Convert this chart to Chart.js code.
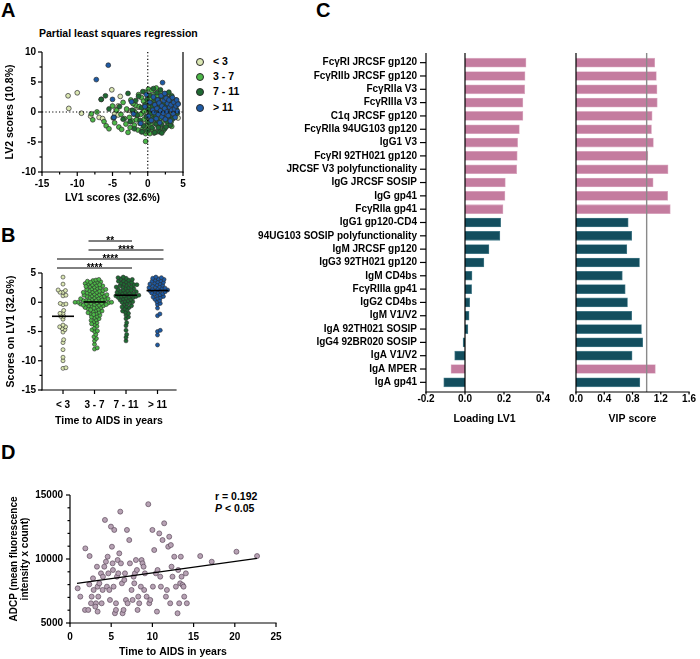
<!DOCTYPE html>
<html>
<head>
<meta charset="utf-8">
<script src="https://cdn.jsdelivr.net/npm/chart.js@4.4.1/dist/chart.umd.min.js"></script>
<style>
  body { margin: 0; background: #fff; font-family: "Liberation Sans", Arial, sans-serif; }
  #page { position: relative; width: 700px; height: 659px; overflow: hidden; background: #fff; }
  canvas, .t { position: absolute; }
  .t { font-weight: bold; color: #000; white-space: nowrap; font-size: 10.5px; line-height: 12px; }
  .letter { font-size: 20px; line-height: 20px; }
  .dot { display: inline-block; width: 6px; height: 6px; border-radius: 50%; border: 0.8px solid #2b2b2b; position: absolute; left: -17px; top: 2.5px; }
</style>
</head>
<body>
<div id="page">
  <div class="t letter" style="left:1px;top:0px">A</div>
  <div class="t letter" style="left:1px;top:225px">B</div>
  <div class="t letter" style="left:316px;top:0px">C</div>
  <div class="t letter" style="left:1px;top:442px">D</div>

  <div class="t" style="left:39px;top:27px">Partial least squares regression</div>
  <div id="legendA"></div>

  <div class="t" style="left:215px;top:490px">r = 0.192</div>
  <div class="t" style="left:215px;top:502px"><i>P</i> &lt; 0.05</div>

  <canvas id="cA" width="250" height="170" style="left:0;top:40px"></canvas>
  <canvas id="cB" width="250" height="205" style="left:0;top:225px"></canvas>
  <canvas id="cC1" width="320" height="390" style="left:240px;top:40px"></canvas>
  <canvas id="cC2" width="140" height="390" style="left:560px;top:40px"></canvas>
  <canvas id="cD" width="300" height="189" style="left:0;top:470px"></canvas>
</div>
<script>
// ---------- data ----------
const groupLabels = ["< 3", "3 - 7", "7 - 11", "> 11"];

// PLS scores per group (LV1, LV2)
const lv1Lt3 = [-11.3, -11.2, -10.0, -9.4, -8.1, -6.9, -6.4, -5.1, -4.7, -4.5, -4.2, -4.2, -3.9, -2.9, -2.4,
  -2.4, -1.9, -1.9, -1.4, -0.4, -0.3, -0.2, 1.1, 1.2, 1.7, 1.7, 2.0, 2.1, 3.1, 4.3];
const lv2Lt3 = [2.7, 0.6, 3.2, -0.2, -0.7, -0.9, -1.1, 3.7, -0.3, 0.4, -0.5, 1.0, 2.6, 0.3, 0.2,
  -1.6, -0.4, 1.3, 0.8, -1.5, 0.5, 1.2, -0.8, 0.3, -2.0, 1.5, 0.0, 2.0, -0.9, -1.0];

const lv1G3to7 = [-8.0, -7.8, -7.2, -6.6, -6.2, -5.9, -5.5, -5.0, -4.7, -4.4,
  -4.1, -3.8, -3.5, -3.3, -3.0, -2.8, -2.6, -2.4, -2.2, -2.0,
  -1.9, -1.7, -1.5, -1.4, -1.2, -1.1, -0.9, -0.8, -0.7, -0.6,
  -0.5, -0.4, -0.3, -0.3, -0.2, -0.1, -0.1, 0.0, 0.0, 0.0,
  -3.1, -2.5, -1.6, -1.0, -0.6, -0.4, -0.2, -4.9, -3.7, -1.3,
  -0.9, -2.1, -1.8, -0.5, 0.0,
  0.1, 0.2, 0.3, 0.3, 0.4, 0.5, 0.5, 0.6, 0.7, 0.8,
  0.8, 0.9, 1.0, 1.1, 1.1, 1.2, 1.3, 1.4, 1.5, 1.5,
  1.6, 1.7, 1.8, 1.9, 2.0, 2.0, 2.1, 2.2, 2.3, 2.4,
  2.5, 2.6, 2.7, 2.8, 2.9, 3.0, 3.1, 3.2, 3.3, 3.4,
  3.5, 3.6, 3.7, 3.8, 3.9, 0.2, 0.6, 1.0, 1.3, 1.7,
  2.2, 2.7, 3.0, 3.4, 0.4];
const lv2G3to7 = [-0.3, -1.3, 0.0, 2.1, -1.6, -2.3, -2.8, 1.0, -1.8, 0.3,
  -2.5, -0.4, 1.6, -1.1, 0.5, -3.4, -0.9, 2.0, -1.5, 0.2,
  -2.2, 1.1, -0.6, -3.0, 0.9, -1.9, 2.4, -0.2, -2.8, 0.6,
  -1.2, 3.3, -3.6, -4.9, 1.5, -0.7, -2.2, 0.3, 2.8, -1.6,
  -2.0, -2.6, -1.3, -0.4, 1.8, -2.5, -3.2, -1.0, -2.9, 2.9,
  -3.3, 1.4, -0.1, 0.1, -0.9,
  3.8, -2.7, 1.0, -3.6, 2.3, -1.5, 0.4, 3.6, -2.9, 1.7,
  -0.6, -3.5, 2.9, -1.9, 0.9, 4.0, -3.3, -0.2, 2.2, -2.4,
  1.2, -1.2, 3.4, -3.0, 0.5, -1.8, 2.6, -0.7, 1.4, -2.6,
  3.0, 0.1, -1.4, 1.9, -2.2, 0.8, -0.5, 2.4, -1.7, 1.1,
  -0.9, 0.3, 1.7, -0.2, 0.7, 0.7, -0.9, 0.2, 2.7, 0.6,
  -3.1, 2.0, -1.1, -2.4, -2.0];

const lv1G7to11 = [-6.6, -6.0, -5.5, -4.8, -4.0, -2.8, -2.5, -2.2, -1.9, -1.7,
  -1.5, -1.3, -1.1, -0.9, -0.7, -0.6, -0.4, -0.2, -0.1, 0.0,
  0.1, 0.2, 0.3, 0.4, 0.5, 0.6, 0.7, 0.8, 0.8, 0.9,
  1.0, 1.0, 1.1, 1.1, 1.2, -3.5, -0.8,
  1.2, 1.3, 1.4, 1.5, 1.6, 1.7, 1.7, 1.8, 1.9, 2.0,
  2.1, 2.2, 2.3, 2.4, 2.5, 2.6, 2.7, 2.8, 2.9, 3.0,
  3.1, 3.2, 3.3, 3.4, 3.5, 3.6, 3.7, 3.8, 3.9, 4.0,
  4.1, 4.2, 4.3, 2.0, 2.6, 3.0, 1.5];
const lv2G7to11 = [2.1, 2.7, 0.5, -0.9, 0.9, 3.1, -1.6, 0.3, -2.8, 1.9,
  -0.5, 2.6, -1.4, 0.7, 3.4, -2.3, 1.2, -0.8, 2.1, -3.1,
  0.4, -1.7, 2.8, -0.2, 1.5, -2.6, 0.9, -1.1, 3.9, 0.1,
  -3.4, 2.2, -0.6, 1.3, -2.0, -1.2, -3.3,
  0.6, 3.2, -1.4, 2.0, -0.3, -3.3, 1.0, 3.7, -2.1, 0.3,
  2.5, -0.9, 1.6, -2.8, 0.8, 3.0, -1.6, 0.0, 2.2, -0.7,
  1.3, -2.2, 0.5, 2.7, -1.2, 1.8, 0.1, -0.5, 1.0, 2.0,
  0.4, -0.2, 1.4, -3.5, -2.5, 3.3, -2.6];

const lv1Gt11 = [-7.3, -5.6, -5.0, -4.8, -2.3, -2.0, -1.0, -0.4, -0.2, 0.1,
  0.3, 0.5, 0.7, 0.8, 0.9, 1.0, 1.2, 1.3, 1.4, 1.5,
  1.6, 1.7, 1.8, 1.9, 2.0,
  2.0, 2.1, 2.2, 2.3, 2.4, 2.5, 2.6, 2.7, 2.8, 2.9,
  3.0, 3.1, 3.2, 3.3, 3.4, 3.5, 3.6, 3.7, 3.8, 3.9,
  4.0, 4.1, 4.2, 4.3, 2.4];
const lv2Gt11 = [5.4, 7.8, 2.1, -0.9, 1.7, -0.3, -1.9, 0.9, 2.9, -0.7,
  1.6, -1.4, 0.3, 2.5, -0.1, 1.2, -1.1, 0.6, 2.0, -0.4,
  1.5, -1.8, 0.2, 2.7, -0.8,
  1.0, 4.9, -0.2, 1.9, 0.6, -1.2, 2.3, 0.0, 1.4, -0.6,
  2.0, 0.8, -1.5, 1.2, 0.3, 2.4, -0.3, 1.6, 0.5, -0.9,
  1.0, 2.0, 0.1, 1.3, 3.1];

const ticksA_x = [-15, -10, -5, 0, 5];
const minorA_x = [-12.5, -7.5, -2.5, 2.5];
const ticksA_y = [-10, -5, 0, 5, 10];
const minorA_y = [-7.5, -2.5, 2.5, 7.5];
const ticksB_y = [-15, -10, -5, 0, 5];
const minorB_y = [-12.5, -7.5, -2.5, 2.5];

// significance brackets in panel B
const sigFrom = [1, 1, 0, 0];
const sigTo = [2, 3, 3, 2];
const sigText = ["**", "****", "****", "****"];

// panel C
const features = ["FcγRI JRCSF gp120", "FcγRIIb JRCSF gp120", "FcγRIIa V3", "FcγRIIIa V3",
  "C1q JRCSF gp120", "FcγRIIa 94UG103 gp120", "IgG1 V3", "FcγRI 92TH021 gp120",
  "JRCSF V3 polyfunctionality", "IgG JRCSF SOSIP", "IgG gp41", "FcγRIIa gp41",
  "IgG1 gp120-CD4", "94UG103 SOSIP polyfunctionality", "IgM JRCSF gp120", "IgG3 92TH021 gp120",
  "IgM CD4bs", "FcγRIIIa gp41", "IgG2 CD4bs", "IgM V1/V2", "IgA 92TH021 SOSIP",
  "IgG4 92BR020 SOSIP", "IgA V1/V2", "IgA MPER", "IgA gp41"];
const loadingLV1 = [0.313, 0.308, 0.306, 0.297, 0.297, 0.279, 0.270, 0.268, 0.265, 0.207,
  0.205, 0.195, 0.183, 0.179, 0.123, 0.097, 0.036, 0.034, 0.024, 0.021, 0.015,
  -0.010, -0.053, -0.072, -0.109];
const vipScore = [1.115, 1.138, 1.147, 1.151, 1.078, 1.069, 1.096, 1.018, 1.303, 1.092,
  1.298, 1.335, 0.739, 0.789, 0.720, 0.899, 0.656, 0.697, 0.729, 0.789, 0.927,
  0.945, 0.794, 1.124, 0.904];
const vipAbove1 = [1, 1, 1, 1, 1, 1, 1, 1, 1, 1, 1, 1, 0, 0, 0, 0, 0, 0, 0, 0, 0, 0, 0, 1, 0];
const ticksLoading = [-0.2, 0, 0.2, 0.4];
const ticksVip = [0, 0.4, 0.8, 1.2, 1.6];

// panel D
const adcpTime = [0.93, 1.25, 1.86, 1.82, 2.22, 2.38, 2.34, 2.55, 2.63, 2.79,
  2.87, 3.15, 3.07, 3.27, 3.35, 3.35, 3.43, 3.56, 3.76, 3.84,
  3.96, 4.0, 4.24, 4.16, 4.36, 4.48, 4.57, 4.65, 4.77, 4.85,
  4.97, 5.09, 5.17, 5.21, 5.29, 5.37, 5.45, 5.58, 5.58, 5.7,
  5.78, 5.86, 5.98, 6.1, 6.18, 6.3, 6.38, 6.5, 6.59, 6.67,
  6.79, 6.91, 6.99, 7.19, 7.27, 7.47, 7.6, 7.72, 7.8, 7.88,
  8.0, 8.12, 8.2, 8.28, 8.4, 8.6, 8.69, 8.8, 8.93, 9.0,
  9.09, 9.3, 9.5, 9.62, 9.74, 10.0, 10.06, 10.22, 10.42, 10.55,
  10.63, 10.83, 10.95, 11.03, 11.23, 11.43, 11.64, 11.76, 11.92, 12.04,
  12.16, 12.24, 12.32, 12.44, 12.65, 12.85, 13.05, 13.13, 13.25, 13.37,
  13.45, 13.54, 13.66, 13.78, 13.86, 14.06, 14.18, 15.8, 17.2, 20.2, 22.7];
const adcpValue = [7710, 7060, 10830, 6020, 6020, 10230, 8020, 6540, 7060, 8490,
  7580, 6540, 6280, 9400, 7840, 5890, 7060, 8100, 8880, 6540,
  7580, 8620, 13050, 9400, 9790, 7840, 10180, 8880, 7580, 6800,
  12530, 10960, 9660, 9140, 7840, 12270, 5760, 6020, 6540, 8620,
  9920, 8880, 10440, 13700, 9660, 8100, 5760, 6020, 8360, 8880,
  6800, 12270, 6540, 11480, 9660, 7580, 6800, 8620, 8100, 8880,
  9920, 9140, 6020, 7060, 6540, 7840, 9920, 9660, 9400, 7580,
  8880, 7060, 14280, 6540, 6800, 12270, 7840, 10700, 8880, 5890,
  9140, 12000, 8620, 7840, 11480, 12790, 7060, 7580, 10960, 11740,
  6540, 11090, 9400, 8620, 10180, 7840, 5760, 9140, 6540, 8100,
  10180, 8620, 7970, 7840, 7060, 8880, 6540, 10230, 9790, 10570, 10230];
const fitTime = [0.85, 22.7];
const fitValue = [8100, 10050];
const ticksD_x = [0, 5, 10, 15, 20, 25];
const ticksD_y = [5000, 10000, 15000];
const minorD_y = [6000, 7000, 8000, 9000, 11000, 12000, 13000, 14000];

// ---------- styling ----------
const groupColors = ["#dbe7b3", "#4cb748", "#1e6a32", "#1d5aa5"];
const pink = "#c47c9f", teal = "#134e5e";

Chart.defaults.font.family = '"Liberation Sans", Arial, sans-serif';
Chart.defaults.font.size = 10;
Chart.defaults.font.weight = "bold";
Chart.defaults.color = "#000";

const groupsLv1 = [lv1Lt3, lv1G3to7, lv1G7to11, lv1Gt11];
const groupsLv2 = [lv2Lt3, lv2G3to7, lv2G7to11, lv2Gt11];

function median(arr) {
  const s = [...arr].sort((a, b) => a - b);
  const m = Math.floor(s.length / 2);
  return s.length % 2 ? s[m] : (s[m - 1] + s[m]) / 2;
}

// simple beeswarm: horizontal pixel offsets so dots don't pile up
function swarm(values, unitPx, diam) {
  const idx = values.map((v, i) => i).sort((a, b) => values[a] - values[b]);
  const placed = [];
  const offs = new Array(values.length).fill(0);
  for (const i of idx) {
    const y = values[i] * unitPx;
    const cands = [0];
    placed.forEach(p => {
      const dy = Math.abs(p.y - y);
      if (dy < diam) {
        const dx = Math.sqrt(diam * diam - dy * dy);
        cands.push(p.x + dx, p.x - dx);
      }
    });
    cands.sort((a, b) => Math.abs(a) - Math.abs(b));
    let x = cands[cands.length - 1];
    for (const c of cands) {
      if (placed.every(p => (p.x - c) ** 2 + (p.y - y) ** 2 >= diam * diam - 0.01)) { x = c; break; }
    }
    placed.push({ x, y });
    offs[i] = x;
  }
  return offs;
}

// axis lines + major/minor ticks in Prism style
const prismAxes = {
  id: "prismAxes",
  afterDatasetsDraw(chart, args, o) {
    if (!o || !o.on) return;
    const { ctx, chartArea: a } = chart;
    const xs = chart.scales.x, ys = chart.scales.y;
    const ext = o.ext || 0, xLen = o.xLen || 4;
    const line = (x1, y1, x2, y2) => { ctx.beginPath(); ctx.moveTo(x1, y1); ctx.lineTo(x2, y2); ctx.stroke(); };
    ctx.save();
    (o.vlines || []).forEach(l => {
      ctx.strokeStyle = l.color; ctx.lineWidth = l.width; ctx.setLineDash(l.dash || []);
      const p = xs.getPixelForValue(l.v);
      line(p, a.top - ext, p, a.bottom + ext);
    });
    (o.hlines || []).forEach(l => {
      ctx.strokeStyle = l.color; ctx.lineWidth = l.width; ctx.setLineDash(l.dash || []);
      const p = ys.getPixelForValue(l.v);
      line(a.left, p, a.right, p);
    });
    ctx.setLineDash([]);
    ctx.strokeStyle = "#000";
    ctx.lineWidth = 1.2;
    const bot = a.bottom + ext;
    if (o.left) line(a.left, a.top - ext, a.left, bot + 0.6);
    if (o.right) line(a.right, a.top - ext, a.right, bot + 0.6);
    if (o.bottom) line(a.left - 0.6, bot, a.right + 0.6, bot);
    (o.xMajor || []).forEach(v => { const p = xs.getPixelForValue(v); line(p, bot, p, bot + xLen); });
    (o.xMinor || []).forEach(v => { const p = xs.getPixelForValue(v); line(p, bot, p, bot + 2.5); });
    (o.yMajor || []).forEach(v => { const p = ys.getPixelForValue(v); line(a.left - 4, p, a.left, p); });
    (o.yMinor || []).forEach(v => { const p = ys.getPixelForValue(v); line(a.left - 2.5, p, a.left, p); });
    if (o.yCat) ys.ticks.forEach((t, i) => { const p = ys.getPixelForTick(i); line(a.left - 6, p, a.left, p); });
    ctx.restore();
  }
};
Chart.register(prismAxes);

// fixed chart areas, so each panel lands where the figure has it
function frame(L, T, W, H, left, top, right, bottom) {
  return { padding: { left: 0, top: top - T, right: L + W - right, bottom: 0 }, yW: left - L, xH: T + H - bottom };
}

function axisOpts(o) {
  const s = {
    type: o.type || "linear",
    afterFit: sc => { if (sc.isHorizontal()) sc.height = o.size; else sc.width = o.size; },
    grid: { display: false, drawTicks: false },
    border: { display: false },
    ticks: { display: o.showTicks !== false, padding: o.pad || 0, maxRotation: 0, autoSkip: false },
    title: { display: false }
  };
  if (o.min !== undefined) { s.min = o.min; s.max = o.max; }
  if (o.ticks) s.afterBuildTicks = sc => { sc.ticks = o.ticks.map(v => ({ value: v })); };
  if (o.fmt) s.ticks.callback = o.fmt;
  if (o.title) s.title = { display: true, text: o.title, padding: o.titlePad,
    font: { size: o.titleSize || 10.5, weight: "bold", lineHeight: o.lh || 1.2 } };
  return s;
}

const base = { responsive: false, animation: false, events: [] };

// ---------- legend A ----------
const legendA = document.getElementById("legendA");
groupLabels.forEach((g, i) => {
  const d = document.createElement("div");
  d.className = "t";
  d.style.left = "213px";
  d.style.top = [55, 70, 85, 101][i] + "px";
  d.innerHTML = '<span class="dot" style="background:' + groupColors[i] + '"></span>' + g.replace("<", "&lt;").replace(">", "&gt;");
  legendA.appendChild(d);
});

// ---------- panel A ----------
const fA = frame(0, 40, 250, 170, 42, 52, 183, 172);
new Chart(document.getElementById("cA"), {
  type: "scatter",
  data: {
    datasets: groupLabels.map((g, i) => ({
      label: g,
      data: groupsLv1[i].map((v, j) => ({ x: v, y: groupsLv2[i][j] })),
      backgroundColor: groupColors[i], borderColor: "#2b2b2b", borderWidth: 0.7,
      pointRadius: 2.4, clip: false, order: 3 - i
    }))
  },
  options: Object.assign({}, base, {
    layout: { autoPadding: false, padding: fA.padding },
    plugins: {
      legend: { display: false }, tooltip: { enabled: false },
      prismAxes: {
        on: true, left: true, bottom: true, right: true,
        xMajor: ticksA_x, xMinor: minorA_x, yMajor: ticksA_y, yMinor: minorA_y,
        vlines: [{ v: 0, color: "#000", width: 1.2, dash: [1.2, 2.2] }],
        hlines: [{ v: 0, color: "#000", width: 1.2, dash: [1.2, 2.2] }]
      }
    },
    scales: {
      x: axisOpts({ min: -15, max: 5, ticks: ticksA_x, size: fA.xH, pad: 6, fmt: v => String(v),
        title: "LV1 scores (32.6%)", titlePad: { top: 0, bottom: 6 } }),
      y: axisOpts({ min: -10, max: 10, ticks: ticksA_y, size: fA.yW, pad: 6, fmt: v => String(v),
        title: "LV2 scores (10.8%)", titlePad: { top: 4, bottom: 0 } })
    }
  })
});

// ---------- panel B ----------
const fB = frame(0, 225, 250, 205, 42, 273, 176, 390);
const bMin = -0.667, bMax = 3.587;
const bUnitPx = (390 - 273) / 20, bCatPx = (176 - 42) / (bMax - bMin);
const bExtras = {
  id: "bExtras",
  afterDatasetsDraw(chart) {
    const { ctx, chartArea: a, scales: { x, y } } = chart;
    ctx.save();
    ctx.strokeStyle = "#000";
    ctx.lineWidth = 1.6;
    groupsLv1.forEach((g, i) => {
      const py = y.getPixelForValue(median(g));
      ctx.beginPath(); ctx.moveTo(x.getPixelForValue(i) - 11, py); ctx.lineTo(x.getPixelForValue(i) + 11, py); ctx.stroke();
    });
    ctx.lineWidth = 1;
    ctx.font = 'bold 10px "Liberation Sans", Arial, sans-serif';
    ctx.fillStyle = "#000";
    ctx.textAlign = "center";
    sigFrom.forEach((f, k) => {
      const py = a.top - 32 + 9 * k;
      const x1 = x.getPixelForValue(f) - 6, x2 = x.getPixelForValue(sigTo[k]) + 6;
      ctx.beginPath(); ctx.moveTo(x1, py); ctx.lineTo(x2, py); ctx.stroke();
      ctx.fillText(sigText[k], (x1 + x2) / 2, py + 2.5);
    });
    ctx.restore();
  }
};
new Chart(document.getElementById("cB"), {
  type: "scatter",
  data: {
    datasets: groupLabels.map((g, i) => {
      const offs = swarm(groupsLv1[i], bUnitPx, 3.0);
      return {
        label: g,
        data: groupsLv1[i].map((v, j) => ({ x: i + offs[j] / bCatPx, y: v })),
        backgroundColor: groupColors[i], borderColor: "#2b2b2b", borderWidth: 0.6,
        pointRadius: 2.0, clip: false
      };
    })
  },
  options: Object.assign({}, base, {
    layout: { autoPadding: false, padding: fB.padding },
    plugins: {
      legend: { display: false }, tooltip: { enabled: false },
      prismAxes: { on: true, left: true, bottom: true, xMajor: [0, 1, 2, 3], yMajor: ticksB_y, yMinor: minorB_y }
    },
    scales: {
      x: axisOpts({ min: bMin, max: bMax, ticks: [0, 1, 2, 3], size: fB.xH, pad: 9, fmt: v => groupLabels[v],
        title: "Time to AIDS in years", titlePad: { top: 0, bottom: 3 } }),
      y: axisOpts({ min: -15, max: 5, ticks: ticksB_y, size: fB.yW, pad: 6, fmt: v => String(v),
        title: "Scores on LV1 (32.6%)", titlePad: { top: 5, bottom: 0 } })
    }
  }),
  plugins: [bExtras]
});

// ---------- panel C ----------
const barFill = vipAbove1.map(v => v ? pink : teal);
const barEdge = vipAbove1.map(v => v ? "#dcaec4" : "#4f8290");

const fC1 = frame(240, 40, 320, 390, 426, 56, 543, 389);
new Chart(document.getElementById("cC1"), {
  type: "bar",
  data: { labels: features, datasets: [{ data: loadingLV1, backgroundColor: barFill, borderColor: barEdge, borderWidth: 0.8, barThickness: 9 }] },
  options: Object.assign({}, base, {
    indexAxis: "y",
    layout: { autoPadding: false, padding: fC1.padding },
    plugins: {
      legend: { display: false }, tooltip: { enabled: false },
      prismAxes: { on: true, ext: 3, xLen: 2.5, left: true, bottom: true, yCat: true, xMajor: ticksLoading,
        vlines: [{ v: 0, color: "#000", width: 1.2 }] }
    },
    scales: {
      x: axisOpts({ min: -0.2, max: 0.4, ticks: ticksLoading, size: fC1.xH, pad: 4, fmt: v => v.toFixed(1),
        title: "Loading LV1", titlePad: { top: 0, bottom: 5 } }),
      y: axisOpts({ type: "category", size: fC1.yW, pad: 9 })
    }
  })
});

const fC2 = frame(560, 40, 140, 390, 576, 56, 693, 389);
new Chart(document.getElementById("cC2"), {
  type: "bar",
  data: { labels: features, datasets: [{ data: vipScore, backgroundColor: barFill, borderColor: barEdge, borderWidth: 0.8, barThickness: 9 }] },
  options: Object.assign({}, base, {
    indexAxis: "y",
    layout: { autoPadding: false, padding: fC2.padding },
    plugins: {
      legend: { display: false }, tooltip: { enabled: false },
      prismAxes: { on: true, ext: 3, xLen: 2.5, left: true, bottom: true, xMajor: ticksVip,
        vlines: [{ v: 1, color: "#8a8a8a", width: 1.4 }] }
    },
    scales: {
      x: axisOpts({ min: 0, max: 1.6, ticks: ticksVip, size: fC2.xH, pad: 4, fmt: v => v.toFixed(1),
        title: "VIP score", titlePad: { top: 0, bottom: 5 } }),
      y: axisOpts({ type: "category", size: fC2.yW, showTicks: false })
    }
  })
});

// ---------- panel D ----------
const fD = frame(0, 470, 300, 189, 70, 495, 276, 623);
new Chart(document.getElementById("cD"), {
  type: "scatter",
  data: {
    datasets: [
      { type: "line", data: fitTime.map((t, i) => ({ x: t, y: fitValue[i] })), borderColor: "#000",
        borderWidth: 1.3, pointRadius: 0, fill: false, order: 0 },
      { data: adcpTime.map((t, i) => ({ x: t, y: adcpValue[i] })), backgroundColor: "#b7a2b4",
        borderColor: "#5d4a5b", borderWidth: 0.7, pointRadius: 2.5, clip: false, order: 1 }
    ]
  },
  options: Object.assign({}, base, {
    layout: { autoPadding: false, padding: fD.padding },
    plugins: {
      legend: { display: false }, tooltip: { enabled: false },
      prismAxes: { on: true, left: true, bottom: true, xMajor: ticksD_x, yMajor: ticksD_y, yMinor: minorD_y }
    },
    scales: {
      x: axisOpts({ min: 0, max: 25, ticks: ticksD_x, size: fD.xH, pad: 8, fmt: v => String(v),
        title: "Time to AIDS in years", titlePad: { top: 0, bottom: 1 } }),
      y: axisOpts({ min: 5000, max: 15000, ticks: ticksD_y, size: fD.yW, pad: 7, fmt: v => String(v),
        title: ["ADCP (mean fluorescence", "intensity x count)"], titleSize: 10, lh: 1.1,
        titlePad: { top: 9, bottom: 0 } })
    }
  })
});
</script>
</body>
</html>
